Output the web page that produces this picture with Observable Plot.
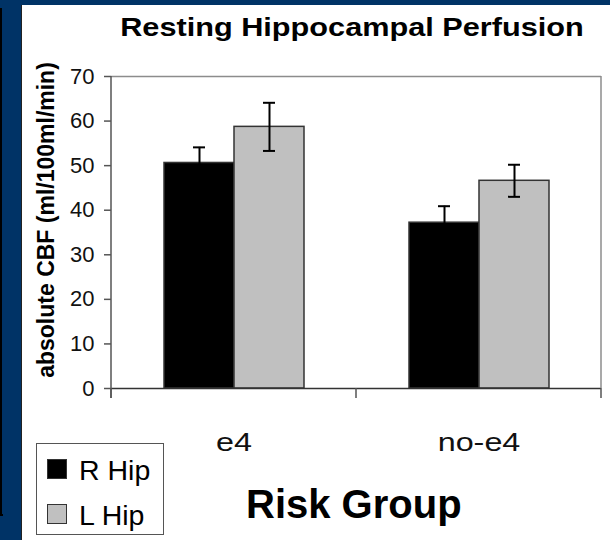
<!DOCTYPE html>
<html>
<head>
<meta charset="utf-8">
<script src="https://cdn.jsdelivr.net/npm/d3@7"></script>
<script src="https://cdn.jsdelivr.net/npm/@observablehq/plot@0.6"></script>
<style>
  body { margin: 0; background: #fff; }
  #page { position: relative; width: 610px; height: 540px; overflow: hidden; background: #fff;
          font-family: Arial, "Liberation Sans", sans-serif; color: #000; }
  #chart { position: absolute; left: 0; top: 0; }
  .blue-left { position: absolute; left: 0; top: 0; width: 21px; height: 540px; background: #003366; }
  .edge { position: absolute; left: 21px; top: 5px; width: 1px; height: 535px; background: #222; }
  .blue-top { position: absolute; left: 0; top: 0; width: 610px; height: 5px; background: #003366; }
  .blackline { position: absolute; left: 0; top: 8px; width: 2px; height: 507px; background: #000; }
  .blackfoot { position: absolute; left: 0; top: 514px; width: 3px; height: 2px; background: #000; }
  #title { position: absolute; left: 352px; top: 14px; font-size: 26px; line-height: 1; font-weight: bold;
           white-space: nowrap; transform: translateX(-50%) scaleX(1.18); }
  #ylabel { position: absolute; left: 46px; top: 220px; font-size: 23px; line-height: 1; font-weight: bold;
            white-space: nowrap; transform: translate(-50%, -50%) rotate(-90deg); }
  #legend { position: absolute; left: 36px; top: 443px; width: 126px; height: 90px; border: 1.5px solid #555;
            background: #fff; }
  .sw { position: absolute; left: 10px; width: 18px; height: 18px; border: 1px solid #333; }
  .lt { position: absolute; left: 42px; font-size: 28.5px; line-height: 1; white-space: nowrap; }
  #xlabel { position: absolute; left: 246px; top: 484px; font-size: 40px; line-height: 1; font-weight: bold;
            white-space: nowrap; }
</style>
</head>
<body>
<div id="page">
  <div id="chart"></div>
  <div id="title">Resting Hippocampal Perfusion</div>
  <div id="ylabel">absolute CBF (ml/100ml/min)</div>
  <div id="legend"></div>
  <div id="xlabel">Risk Group</div>
  <div class="blue-top"></div>
  <div class="blue-left"></div>
  <div class="edge"></div>
  <div class="blackline"></div>
  <div class="blackfoot"></div>
</div>
<script>
// ---- data ----
const groups = ["e4", "no-e4"];
const sides = ["R Hip", "L Hip"];
const rHip = [50.6, 37.2];
const lHip = [58.7, 46.6];
const rErr = [3.5, 3.7];
const lErr = [5.4, 3.6];
const yTicks = [0, 10, 20, 30, 40, 50, 60, 70];
const fills = ["#000000", "#c0c0c0"];

const data = groups.flatMap((g, i) => [
  {group: g, side: sides[0], value: rHip[i], err: rErr[i]},
  {group: g, side: sides[1], value: lHip[i], err: lErr[i]}
]);

const chart = Plot.plot({
  width: 610,
  height: 470,
  marginLeft: 110,
  marginRight: 9,
  marginTop: 76,
  marginBottom: 82,
  style: {background: "transparent", fontFamily: "Arial, 'Liberation Sans', sans-serif", overflow: "visible"},
  fx: {domain: groups, paddingInner: 0, paddingOuter: 0},
  x: {domain: sides, paddingInner: 0, paddingOuter: 0.73, axis: null},
  y: {domain: [0, 70]},
  color: {domain: sides, range: fills},
  marks: [
    Plot.ruleY([70], {stroke: "#8c8c8c", strokeWidth: 1.5}),
    Plot.barY(data, {fx: "group", x: "side", y: "value", fill: "side", stroke: "#333", strokeWidth: 1.5}),
    Plot.ruleX(data, {fx: "group", x: "side", y1: d => d.value - d.err, y2: d => d.value + d.err,
                      stroke: "#000", strokeWidth: 2}),
    Plot.tickY(data, {fx: "group", x: "side", y: d => d.value + d.err, stroke: "#000", strokeWidth: 2,
                      insetLeft: 29, insetRight: 29}),
    Plot.tickY(data, {fx: "group", x: "side", y: d => d.value - d.err, stroke: "#000", strokeWidth: 2,
                      insetLeft: 29, insetRight: 29}),
    Plot.ruleY([0], {stroke: "#333", strokeWidth: 1.5}),
    Plot.axisY({ticks: yTicks, tickSize: 7, tickPadding: 10, fontSize: 22, stroke: "#555", strokeWidth: 1.5,
                fill: "#111", label: null}),
    Plot.axisFx({anchor: "bottom", tickSize: 0, tickPadding: 44, fontSize: 26.5, fill: "#111", label: null})
  ]
});
document.getElementById("chart").append(chart);

// frame edges and category boundary ticks, positioned with the plot's own scales
const fxS = chart.scale("fx");
const yS = chart.scale("y");
const svg = d3.select(chart);
const xLeft = fxS.apply(groups[0]);
const xRight = fxS.apply(groups[groups.length - 1]) + fxS.bandwidth;
const yTop = yS.apply(70), yBot = yS.apply(0);
const g = svg.append("g");
g.append("line").attr("x1", xRight).attr("x2", xRight).attr("y1", yTop).attr("y2", yBot)
  .attr("stroke", "#8c8c8c").attr("stroke-width", 1.5);
g.append("line").attr("x1", xLeft).attr("x2", xLeft).attr("y1", yTop).attr("y2", yBot + 10)
  .attr("stroke", "#555").attr("stroke-width", 1.5);
const bounds = groups.map(k => fxS.apply(k)).concat([xRight]);
bounds.forEach(b => {
  g.append("line").attr("x1", b).attr("x2", b).attr("y1", yBot).attr("y2", yBot + 10)
    .attr("stroke", "#555").attr("stroke-width", 1.5);
});

// slightly wider category labels, as in the reference
svg.selectAll('g[aria-label="fx-axis tick label"] text').each(function() {
  const w = this.getComputedTextLength();
  this.setAttribute("textLength", w * 1.22);
  this.setAttribute("lengthAdjust", "spacingAndGlyphs");
});

// legend
const legend = document.getElementById("legend");
const legendTops = [15, 60];
sides.forEach((s, i) => {
  const sw = document.createElement("div");
  sw.className = "sw";
  sw.style.top = legendTops[i] + "px";
  sw.style.background = fills[i];
  legend.append(sw);
  const t = document.createElement("div");
  t.className = "lt";
  t.style.top = (legendTops[i] - 3.5) + "px";
  t.textContent = s;
  legend.append(t);
});
</script>
</body>
</html>
